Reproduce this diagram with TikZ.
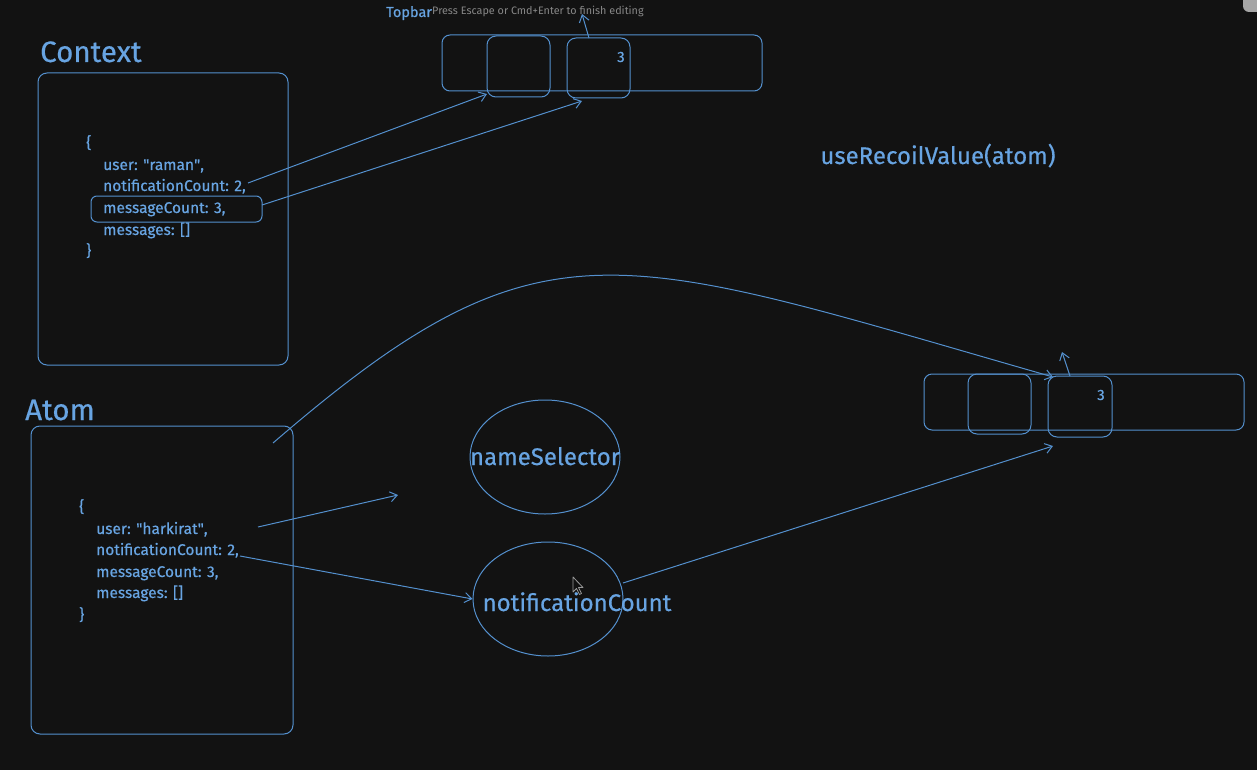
\documentclass[tikz,border=0pt]{standalone}
\usepackage{fontspec}
\setmainfont{Fira Sans}[BoldFont={Fira Sans}, BoldFeatures={FakeBold=0.5}]
\usetikzlibrary{arrows.meta,shapes.geometric}
\definecolor{bg}{RGB}{18,18,18}
\definecolor{ln}{RGB}{84,144,206}
\definecolor{tx}{RGB}{104,164,226}
\definecolor{gr}{RGB}{135,135,135}
\tikzset{
  box/.style={draw=ln, line width=1pt, rounded corners=9pt},
  arr/.style={draw=ln, line width=1pt, -{Straight Barb[length=7pt,width=10pt]}},
  lbl/.style={text=tx, inner sep=0pt, anchor=base west},
  code/.style={lbl, font=\fontsize{15.5}{17}\selectfont\bfseries},
  big/.style={lbl, font=\fontsize{29.5}{32}\selectfont\bfseries},
  mid/.style={text=tx, inner sep=0pt, anchor=base, font=\fontsize{24}{27}\selectfont\bfseries},
  oval/.style={draw=ln, line width=1pt, ellipse, minimum width=150pt, minimum height=114pt, inner sep=0pt},
}
\begin{document}
\begin{tikzpicture}[x=1pt,y=-1pt]
\fill[bg] (0,0) rectangle (1257,770);
\useasboundingbox (0,0) rectangle (1257,770);
% top-right gray corner
\fill[gray!70, rounded corners=6pt] (1243,-12) rectangle (1270,12);

% Context
\node[big] (ctxlbl) at (40,62) {Context};
\draw[box] (38,73) rectangle (288,365);
\node[code] (c0) at (86,148) {\{};
\node[code] (cUser) at (103,170) {user: \textquotedbl raman\textquotedbl,};
\node[code] (cNotif) at (103,191) {notificationCount: 2,};
\node[code] (cMsg) at (103,213) {messageCount: 3,};
\node[code] (cMsgs) at (103,235) {messages: []};
\node[code] (c1) at (86,256) {\}};
\draw[draw=ln, line width=1pt, rounded corners=6pt] (91,196) rectangle (262,222);
\coordinate (hl) at (262,205);

% Topbar
\node[lbl, font=\fontsize{14.5}{16}\selectfont\bfseries] (tblbl) at (386,17) {Topbar};
\node[lbl, text=gr, font=\fontsize{10.8}{12}\selectfont] (press) at (432,15) {Press Escape or Cmd+Enter to finish editing};
\draw[box, rounded corners=8pt] (442,35) rectangle (762,91);
\draw[box, rounded corners=9pt] (487,36) rectangle (550,97);
\draw[box, rounded corners=9pt] (567,38) rectangle (630,98);
\node[lbl, font=\fontsize{15}{16}\selectfont\bfseries] (t3) at (617,62) {3};
\coordinate (tbA) at (487,94);
\coordinate (tbB) at (582,101);
\coordinate (tbUp0) at (589,38);
\coordinate (tbUp1) at (582,14);
\draw[arr] (tbUp0) -- (tbUp1);
\coordinate (cNotifEnd) at (248,183);
\draw[arr] (cNotifEnd) -- (tbA);
\draw[arr] (hl) -- (tbB);

% useRecoilValue
\node[mid] (use) at (938,164) {useRecoilValue(atom)};

% Atom
\node[big] (atomlbl) at (25,420) {Atom};
\draw[box] (31,426) rectangle (293,734);
\node[code] (a0) at (79,512) {\{};
\node[code] (aUser) at (96,534) {user: \textquotedbl harkirat\textquotedbl,};
\node[code] (aNotif) at (96,555) {notificationCount: 2,};
\node[code] (aMsg) at (96,577) {messageCount: 3,};
\node[code] (aMsgs) at (96,598) {messages: []};
\node[code] (a1) at (79,620) {\}};

% ellipses
\node[oval] (ns) at (545,457) {};
\node[mid] (nstext) at (545,465) {nameSelector};
\node[oval] (nc) at (548,599) {};
\node[mid] (nctext) at (577,611) {notificationCount};

% right bar
\draw[box, rounded corners=8pt] (924,374) rectangle (1244,430);
\draw[box, rounded corners=9pt] (968,374) rectangle (1031,434);
\draw[box, rounded corners=9pt] (1048,376) rectangle (1112,437);
\node[lbl, font=\fontsize{15}{16}\selectfont\bfseries] (r3) at (1097,400) {3};
\coordinate (rbUp0) at (1070,376);
\coordinate (rbUp1) at (1062,352);
\draw[arr] (rbUp0) -- (rbUp1);
\coordinate (rbIn) at (1053,377);
\coordinate (rbLow) at (1053,446);

% connectors from atom
\coordinate (curveStart) at (273,443);
\draw[arr] (curveStart) .. controls (543,210) and (613,251) .. (rbIn);
\coordinate (userStart) at (258,527);
\coordinate (userEnd) at (398,495);
\draw[arr] (userStart) -- (userEnd);
\coordinate (notifStart) at (240,556);
\draw[arr] (notifStart) -- (nc.west);
\coordinate (ncOut) at (623,583);
\draw[arr] (ncOut) -- (rbLow);

% mouse cursor
\filldraw[fill=bg, draw=gray!80, line width=0.8pt, line join=round]
  (573,577) -- (573,592) -- (576.5,588.5) -- (579.5,594.5) -- (581.5,593.5) -- (578.5,587.5) -- (583,587.5) -- cycle;
\end{tikzpicture}
\end{document}
